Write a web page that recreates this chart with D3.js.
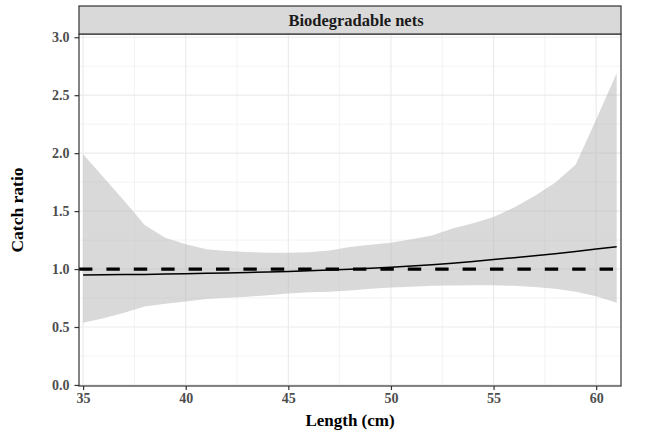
<!DOCTYPE html>
<html>
<head>
<meta charset="utf-8">
<script src="https://cdn.jsdelivr.net/npm/d3@7"></script>
<style>
  html, body { margin: 0; padding: 0; background: #fff; }
  svg { display: block; }
  svg text { font-family: "Liberation Serif", "DejaVu Serif", serif; }
</style>
</head>
<body>
<svg id="chart" width="654" height="440"></svg>
<script>
// Fish length classes (cm)
const lengths = [35, 36, 37, 38, 39, 40, 41, 42, 43, 44, 45, 46, 47, 48,
                 49, 50, 51, 52, 53, 54, 55, 56, 57, 58, 59, 60, 61];
// Estimated catch ratio curve
const fitRatio = [0.948, 0.950, 0.952, 0.954, 0.957, 0.960, 0.963, 0.967, 0.971,
                  0.975, 0.979, 0.985, 0.991, 0.998, 1.006, 1.015, 1.026, 1.038,
                  1.051, 1.066, 1.082, 1.098, 1.115, 1.133, 1.152, 1.172, 1.193];
// Confidence band limits
const upperCI = [1.99, 1.79, 1.59, 1.38, 1.27, 1.215, 1.17, 1.155, 1.147, 1.14,
                 1.14, 1.145, 1.16, 1.19, 1.21, 1.228, 1.257, 1.29, 1.35, 1.395,
                 1.45, 1.53, 1.63, 1.745, 1.90, 2.29, 2.69];
const lowerCI = [0.537, 0.575, 0.624, 0.676, 0.70, 0.72, 0.742, 0.753, 0.762, 0.775,
                 0.79, 0.80, 0.805, 0.815, 0.83, 0.84, 0.848, 0.855, 0.858, 0.86,
                 0.86, 0.855, 0.845, 0.83, 0.805, 0.765, 0.71];
// Reference line (equal catch)
const referenceRatio = 1.0;

const xTicks = [35, 40, 45, 50, 55, 60];
const xMinor = [37.5, 42.5, 47.5, 52.5, 57.5];
const yTicks = [0, 0.5, 1.0, 1.5, 2.0, 2.5, 3.0];
const yMinor = [0.25, 0.75, 1.25, 1.75, 2.25, 2.75];

const panelTitle = "Biodegradable nets";
const xTitle = "Length (cm)";
const yTitle = "Catch ratio";

const rows = lengths.map((l, i) => ({ len: l, fit: fitRatio[i], lo: lowerCI[i], hi: upperCI[i] }));

const panel = { left: 79, right: 621, top: 34, bottom: 386 };
const strip = { top: 6, bottom: 34 };
const serif = '"Liberation Serif", "DejaVu Serif", serif';

const svg = d3.select("#chart");

const x = d3.scaleLinear().domain([34.8, 61.21]).range([panel.left, panel.right]);
const y = d3.scaleLinear().domain([-0.009, 3.028]).range([panel.bottom, panel.top]);

// Panel background
svg.append("rect")
  .attr("x", panel.left).attr("y", panel.top)
  .attr("width", panel.right - panel.left).attr("height", panel.bottom - panel.top)
  .attr("fill", "#fff");

// Grid lines
const grid = svg.append("g");
grid.selectAll("line.xminor").data(xMinor).join("line")
  .attr("x1", d => x(d)).attr("x2", d => x(d))
  .attr("y1", panel.top).attr("y2", panel.bottom)
  .attr("stroke", "#ebebeb").attr("stroke-width", 0.6);
grid.selectAll("line.yminor").data(yMinor).join("line")
  .attr("y1", d => y(d)).attr("y2", d => y(d))
  .attr("x1", panel.left).attr("x2", panel.right)
  .attr("stroke", "#ebebeb").attr("stroke-width", 0.6);
grid.selectAll("line.xmajor").data(xTicks).join("line")
  .attr("x1", d => x(d)).attr("x2", d => x(d))
  .attr("y1", panel.top).attr("y2", panel.bottom)
  .attr("stroke", "#ebebeb").attr("stroke-width", 1.2);
grid.selectAll("line.ymajor").data(yTicks).join("line")
  .attr("y1", d => y(d)).attr("y2", d => y(d))
  .attr("x1", panel.left).attr("x2", panel.right)
  .attr("stroke", "#ebebeb").attr("stroke-width", 1.2);

// Confidence band
const band = d3.area()
  .x(d => x(d.len))
  .y0(d => y(d.lo))
  .y1(d => y(d.hi));
svg.append("path")
  .datum(rows)
  .attr("d", band)
  .attr("fill", "#b3b3b3")
  .attr("fill-opacity", 0.5);

// Reference line at ratio 1
svg.append("line")
  .attr("x1", panel.left).attr("x2", panel.right)
  .attr("y1", y(referenceRatio)).attr("y2", y(referenceRatio))
  .attr("stroke", "#000").attr("stroke-width", 3.2)
  .attr("stroke-dasharray", "13.4,14");

// Fitted curve
const fitLine = d3.line().x(d => x(d.len)).y(d => y(d.fit));
svg.append("path")
  .datum(rows)
  .attr("d", fitLine)
  .attr("fill", "none")
  .attr("stroke", "#000")
  .attr("stroke-width", 1.5);

// Panel border
svg.append("rect")
  .attr("x", panel.left).attr("y", panel.top)
  .attr("width", panel.right - panel.left).attr("height", panel.bottom - panel.top)
  .attr("fill", "none").attr("stroke", "#333").attr("stroke-width", 1.2);

// Facet strip
svg.append("rect")
  .attr("x", panel.left).attr("y", strip.top)
  .attr("width", panel.right - panel.left).attr("height", strip.bottom - strip.top)
  .attr("fill", "#d9d9d9").attr("stroke", "#333").attr("stroke-width", 1.2);
svg.append("text")
  .attr("x", 356).attr("y", 26)
  .attr("text-anchor", "middle")
  .style("font-family", serif)
  .attr("font-size", 16.5).attr("font-weight", "bold").attr("fill", "#1a1a1a")
  .text(panelTitle);

// Axes
const xAxis = d3.axisBottom(x).tickValues(xTicks).tickSize(4).tickPadding(3)
  .tickFormat(d3.format("d"));
const gx = svg.append("g").attr("transform", `translate(0,${panel.bottom})`).call(xAxis);
gx.select(".domain").remove();

const yAxis = d3.axisLeft(y).tickValues(yTicks).tickSize(4.5).tickPadding(5)
  .tickFormat(d3.format(".1f"));
const gy = svg.append("g").attr("transform", `translate(${panel.left},0)`).call(yAxis);
gy.select(".domain").remove();

[gx, gy].forEach(g => {
  g.attr("font-family", null).attr("font-size", null);
  g.selectAll(".tick line").attr("stroke", "#333").attr("stroke-width", 1.2);
  g.selectAll(".tick text")
    .style("font-family", serif)
    .style("font-size", "14px").style("font-weight", "bold").attr("fill", "#4d4d4d");
});

// Axis titles
svg.append("text")
  .attr("x", (panel.left + panel.right) / 2).attr("y", 426)
  .attr("text-anchor", "middle")
  .style("font-family", serif)
  .attr("font-size", 17).attr("font-weight", "bold").attr("fill", "#000")
  .text(xTitle);
svg.append("text")
  .attr("transform", `translate(23,${(panel.top + panel.bottom) / 2}) rotate(-90)`)
  .attr("text-anchor", "middle")
  .style("font-family", serif)
  .attr("font-size", 17.5).attr("font-weight", "bold").attr("fill", "#000")
  .text(yTitle);
</script>
</body>
</html>
